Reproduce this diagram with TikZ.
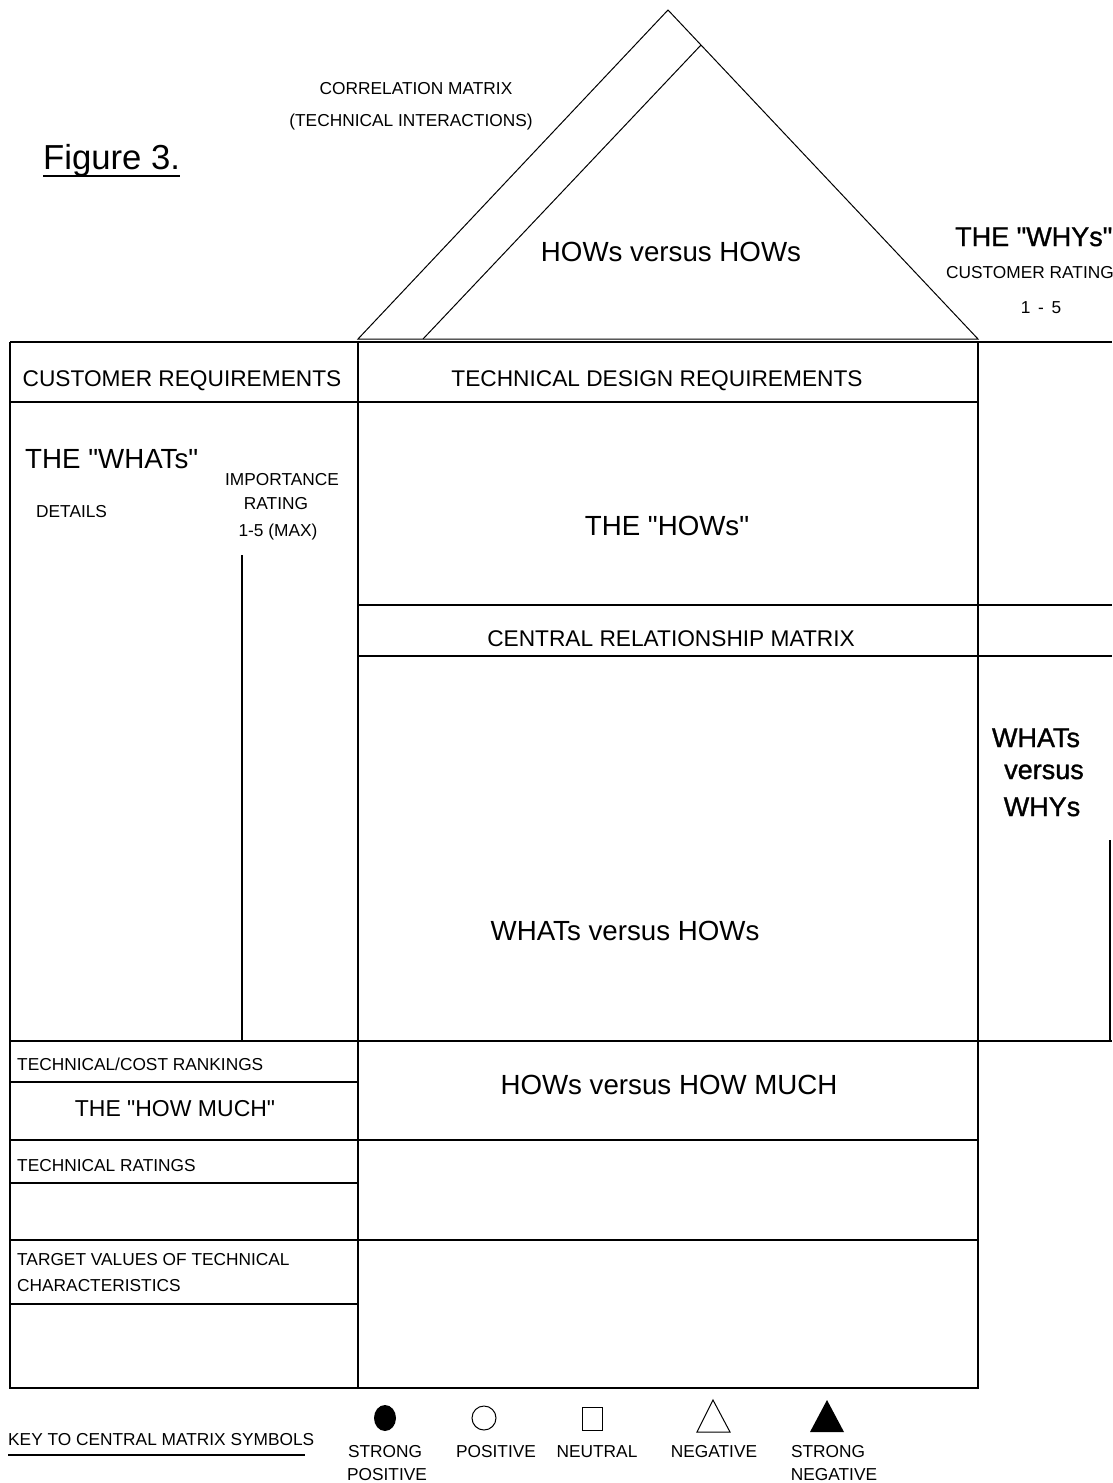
\documentclass[tikz,border=0pt]{standalone}
\usepackage{fontspec}
\setmainfont{Liberation Sans}[Ligatures=TeXOff]
\newfontfamily\heavyfont{Liberation Sans}[Ligatures=TeXOff,FakeBold=1.2]
\begin{document}
\begin{tikzpicture}[x=1pt,y=-1pt,
  boxline/.style={line width=1.4pt},
  roofline/.style={line width=1pt},
  smalltxt/.style={font=\fontsize{17.3}{20}\selectfont, inner sep=0pt, anchor=base},
  hdrtxt/.style={font=\fontsize{22.7}{26}\selectfont, inner sep=0pt, anchor=base},
  bigtxt/.style={font=\fontsize{27.7}{32}\selectfont, inner sep=0pt, anchor=base},
  whytxt/.style={font=\heavyfont\fontsize{27}{32}\selectfont, inner sep=0pt, anchor=base},
  sym/.style={line width=1pt}]
\useasboundingbox (0,0) rectangle (1112,1483);

% roof
\coordinate (rl) at (358,339);
\coordinate (rr) at (978,339);
\coordinate (apex) at (668,10);
\coordinate (il) at (423,339);
\coordinate (ia) at (701,45);
\draw[roofline] (rl) -- (apex) -- (rr) -- cycle;
\draw[roofline] (il) -- (ia);

% frame
\draw[boxline] (10,342) -- (1112,342);
\draw[boxline] (10,342) -- (10,1388) -- (978,1388) -- (978,342);
\draw[boxline] (358,342) -- (358,1388);
\draw[boxline] (10,402) -- (978,402);
\draw[boxline] (358,605) -- (1112,605);
\draw[boxline] (358,656) -- (1112,656);
\draw[boxline] (10,1041) -- (1112,1041);
\draw[boxline] (10,1082) -- (358,1082);
\draw[boxline] (10,1140) -- (978,1140);
\draw[boxline] (10,1183) -- (358,1183);
\draw[boxline] (10,1240) -- (978,1240);
\draw[boxline] (10,1304) -- (358,1304);
\draw[boxline] (242,555) -- (242,1041);
\draw[boxline] (1110,840) -- (1110,1041);

% texts
\node[bigtxt, font=\fontsize{34.7}{40}\selectfont, anchor=base west] (fig) at (43,169) {Figure 3.};
\draw[line width=1.2pt] (43,176) -- (180,176);
\node[smalltxt] (corr) at (416,94) {CORRELATION MATRIX};
\node[smalltxt] (inter) at (411,126) {(TECHNICAL INTERACTIONS)};
\node[bigtxt] (hvh) at (671,261) {HOWs versus HOWs};
\node[whytxt, anchor=base west] (whys) at (955,246) {THE "WHYs"};
\node[smalltxt, anchor=base west] (crat) at (946,278) {CUSTOMER RATING};
\node[smalltxt] (r15) at (1041,313) {1 \,-\, 5};
\node[hdrtxt] (creq) at (182,386) {CUSTOMER REQUIREMENTS};
\node[hdrtxt] (tdr) at (657,386) {TECHNICAL DESIGN REQUIREMENTS};
\node[bigtxt, anchor=base west] (whats) at (25,468) {THE "WHATs"};
\node[smalltxt, anchor=base west] (det) at (36,517) {DETAILS};
\node[smalltxt] (imp) at (282,485) {IMPORTANCE};
\node[smalltxt] (rat) at (276,509) {RATING};
\node[smalltxt] (max) at (278,536) {1-5 (MAX)};
\node[bigtxt] (hows) at (667,535) {THE "HOWs"};
\node[hdrtxt] (crm) at (671,646) {CENTRAL RELATIONSHIP MATRIX};
\node[whytxt] (wvw1) at (1036,747) {WHATs};
\node[whytxt] (wvw2) at (1044,779) {versus};
\node[whytxt] (wvw3) at (1042,816) {WHYs};
\node[bigtxt] (wvh) at (625,940) {WHATs versus HOWs};
\node[smalltxt, anchor=base west] (tcr) at (17,1070) {TECHNICAL/COST RANKINGS};
\node[hdrtxt, font=\fontsize{23}{26}\selectfont] (hm) at (175,1116) {THE "HOW MUCH"};
\node[bigtxt] (hvhm) at (669,1094) {HOWs versus HOW MUCH};
\node[smalltxt, anchor=base west] (tr) at (17,1171) {TECHNICAL RATINGS};
\node[smalltxt, anchor=base west] (tv1) at (17,1265) {TARGET VALUES OF TECHNICAL};
\node[smalltxt, anchor=base west] (tv2) at (17,1291) {CHARACTERISTICS};

% key
\node[smalltxt, anchor=base west] (key) at (8,1445) {KEY TO CENTRAL MATRIX SYMBOLS};
\draw[line width=1.2pt] (8,1455) -- (305,1455);
\fill (385,1418) ellipse [x radius=11, y radius=13];
\draw[sym] (484,1418) circle [radius=12];
\draw[sym] (582,1407) rectangle (602,1430);
\draw[sym] (713,1400) -- (730,1432) -- (697,1432) -- cycle;
\fill (827,1400) -- (844,1432) -- (810,1432) -- cycle;
\node[smalltxt] (sp1) at (385,1457) {STRONG};
\node[smalltxt] (sp2) at (387,1480) {POSITIVE};
\node[smalltxt] (pos) at (496,1457) {POSITIVE};
\node[smalltxt] (neu) at (597,1457) {NEUTRAL};
\node[smalltxt] (neg) at (714,1457) {NEGATIVE};
\node[smalltxt] (sn1) at (828,1457) {STRONG};
\node[smalltxt] (sn2) at (834,1480) {NEGATIVE};
\end{tikzpicture}
\end{document}
